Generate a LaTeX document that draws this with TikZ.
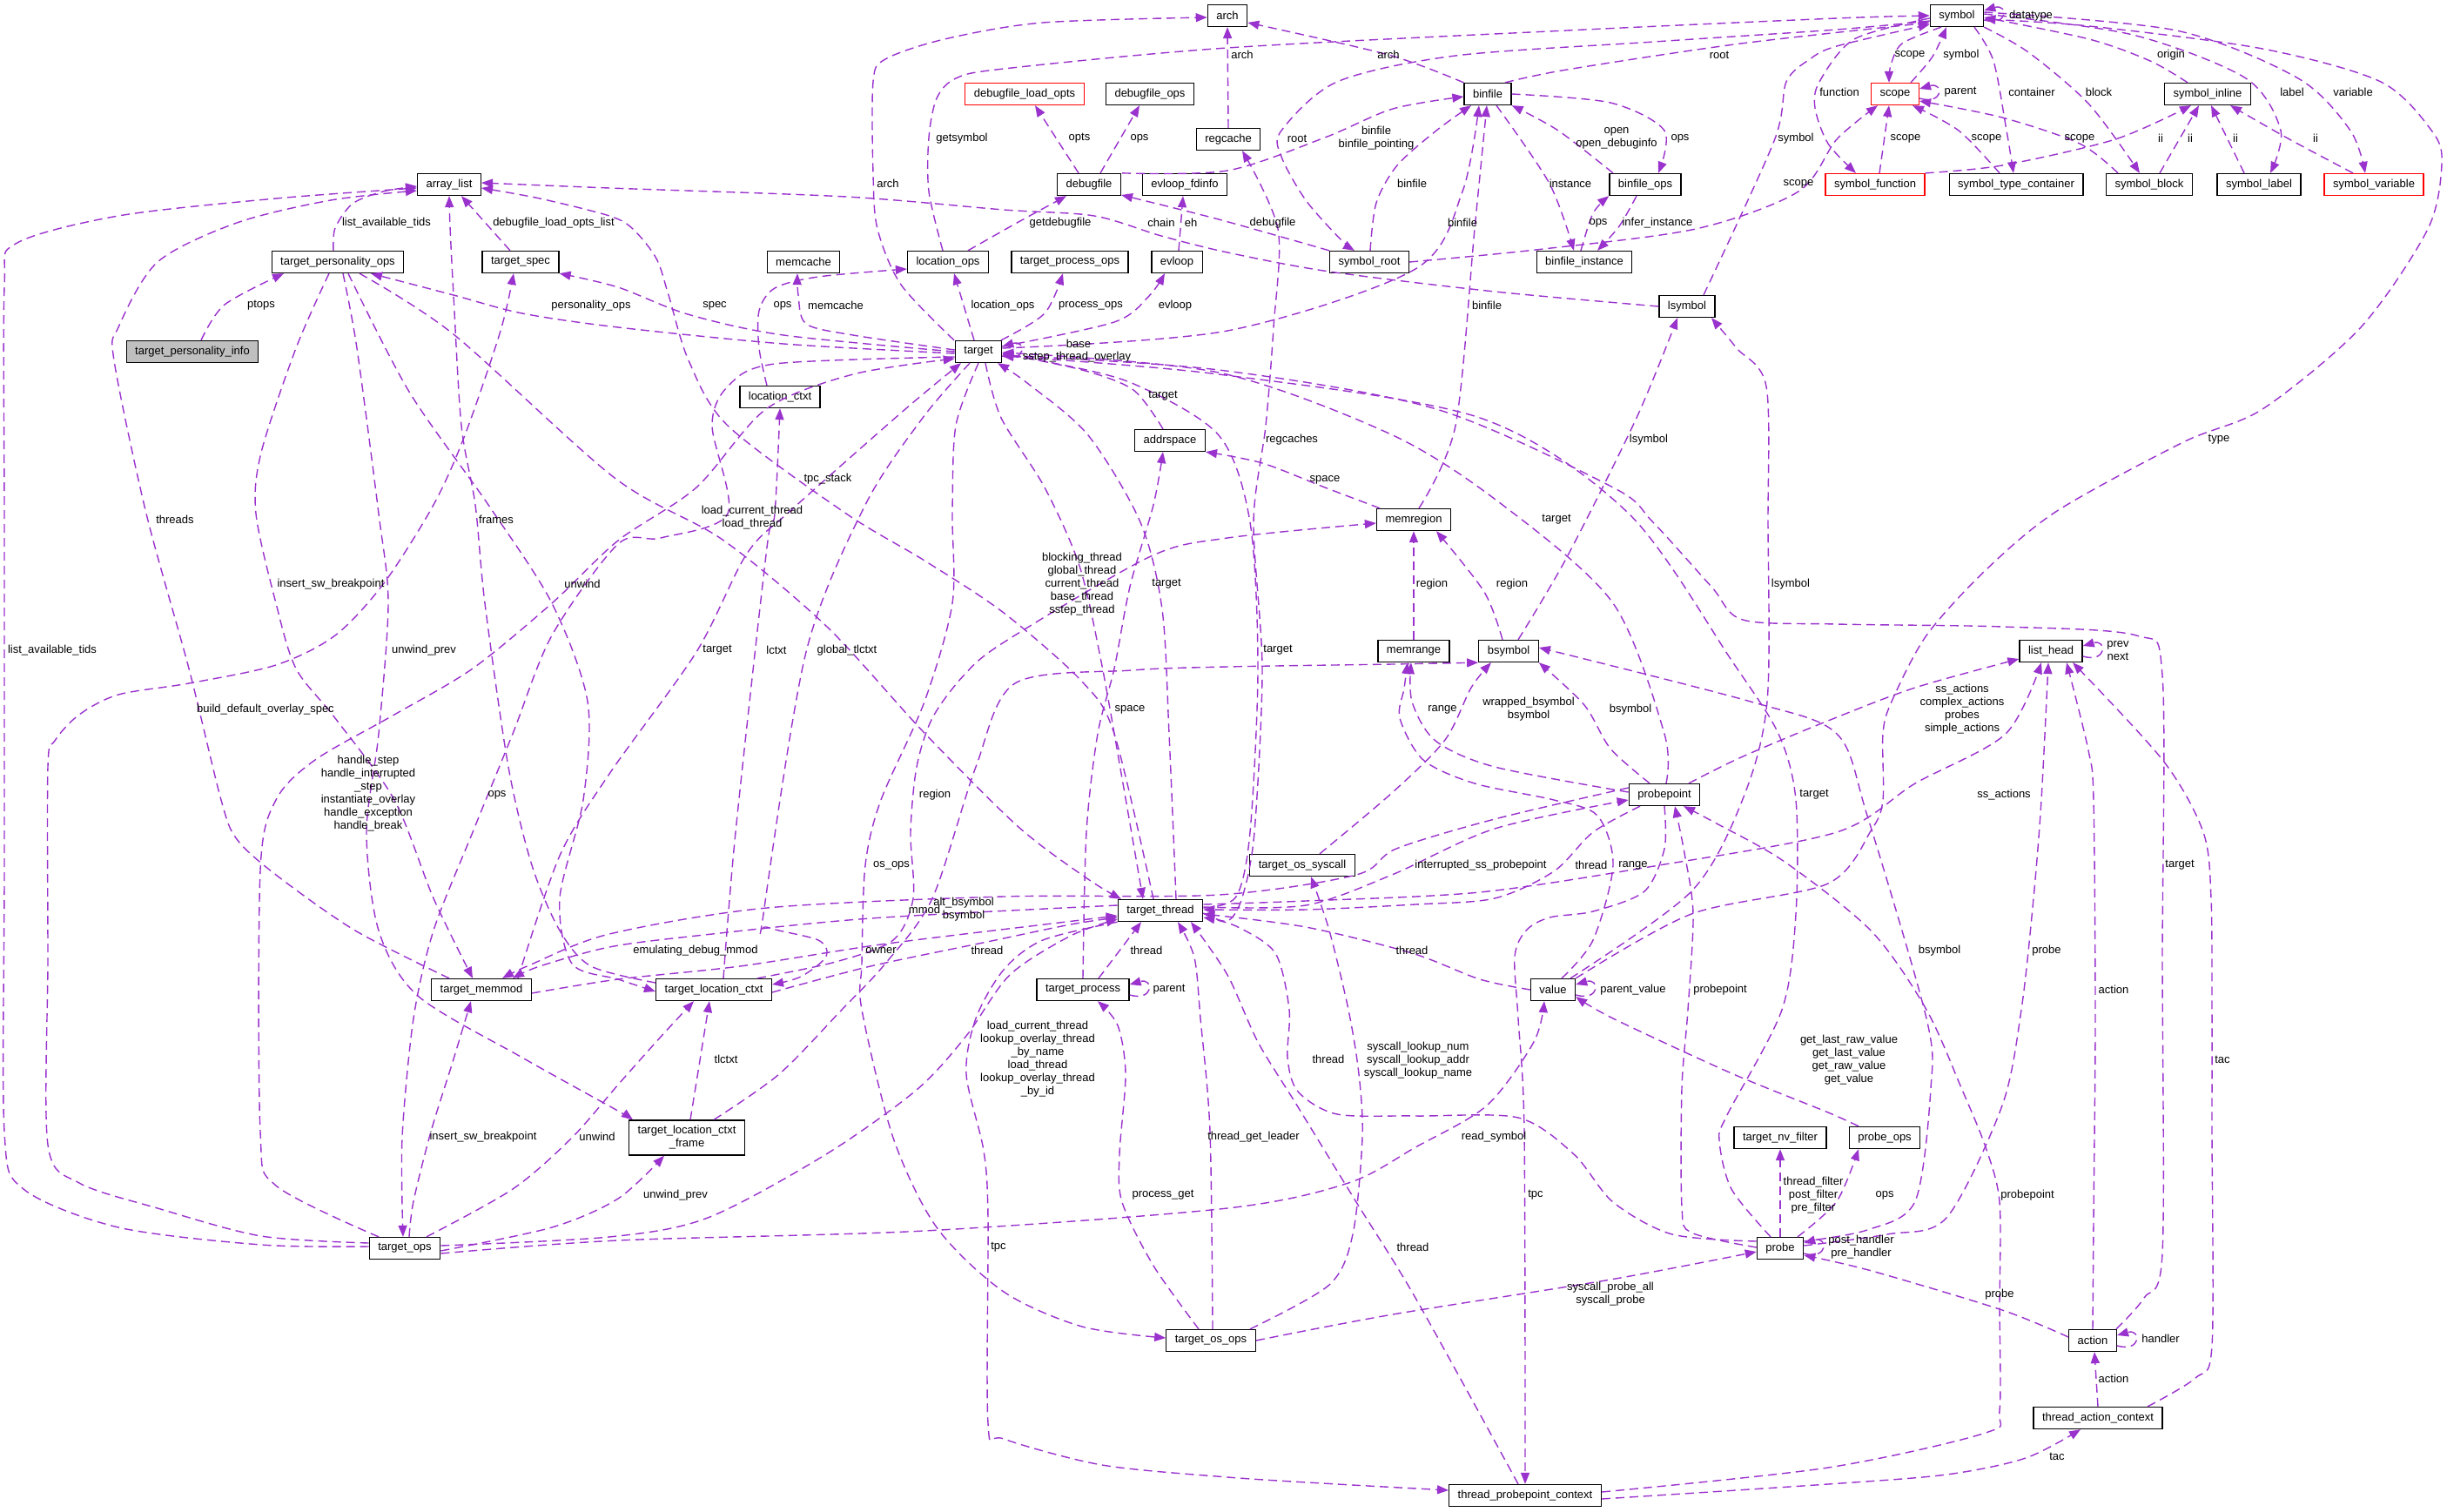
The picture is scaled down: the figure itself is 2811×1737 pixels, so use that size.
\documentclass[tikz,border=0pt]{standalone}
\usepackage{fontspec}
\setmainfont{Liberation Sans}
\usetikzlibrary{arrows.meta}
\definecolor{edgec}{RGB}{154,50,205}
\newcommand\dfont{\fontsize{13}{15}\selectfont}
\tikzset{
 cls/.style={draw=black, line width=1.3pt, fill=white, minimum height=25pt, inner xsep=10pt, inner ysep=2pt, font=\dfont},
 rcls/.style={cls, draw=red},
 edg/.style={draw=edgec, line width=1.4pt, dash pattern=on 10pt off 6pt, -{Triangle[length=13pt,width=10pt]}},
 lab/.style={font=\dfont, inner sep=0pt, align=center},
}
\begin{document}
\begin{tikzpicture}[x=1pt,y=-1pt]
\fill[white] (0,0) rectangle (2811,1737);
\path[use as bounding box] (0,0) rectangle (2811,1737);
% ---------------- nodes
\node[cls] (array_list) at (516,212) {array\_list};
\node[cls] (tpo) at (388,301) {target\_personality\_ops};
\node[cls] (tspec) at (598,301) {target\_spec};
\node[cls,fill=black!25] (tpi) at (221,404) {target\_personality\_info};
\node[cls] (arch) at (1410,18) {arch};
\node[rcls] (dlo) at (1177,108) {debugfile\_load\_opts};
\node[cls] (dops) at (1321,108) {debugfile\_ops};
\node[cls] (regcache) at (1411,160) {regcache};
\node[cls] (debugfile) at (1251,212) {debugfile};
\node[cls] (evfd) at (1361,212) {evloop\_fdinfo};
\node[cls] (memcache) at (923,301) {memcache};
\node[cls] (locops) at (1089,301) {location\_ops};
\node[cls] (tprocops) at (1229,301) {target\_process\_ops};
\node[cls] (evloop) at (1352,301) {evloop};
\node[cls] (target) at (1124,404) {target};
\node[cls] (lctx) at (896,456) {location\_ctxt};
\node[cls] (addrspace) at (1344,506) {addrspace};
\node[cls] (binfile) at (1709,108) {binfile};
\node[cls] (sroot) at (1573,301) {symbol\_root};
\node[cls] (binst) at (1820,301) {binfile\_instance};
\node[cls] (bops) at (1890,212) {binfile\_ops};
\node[cls] (lsymbol) at (1938,352) {lsymbol};
\node[cls] (symbol) at (2248,18) {symbol};
\node[rcls] (scope) at (2177,108) {scope};
\node[cls] (sinline) at (2536,108) {symbol\_inline};
\node[rcls] (sfunc) at (2154,212) {symbol\_function};
\node[cls] (stc) at (2316,212) {symbol\_type\_container};
\node[cls] (sblock) at (2469,212) {symbol\_block};
\node[cls] (slabel) at (2595,212) {symbol\_label};
\node[rcls] (svar) at (2727,212) {symbol\_variable};
\node[cls] (tmm) at (553,1137) {target\_memmod};
\node[cls] (tthread) at (1333,1046) {target\_thread};
\node[cls] (tlc) at (820,1137) {target\_location\_ctxt};
\node[cls] (tproc) at (1244,1137) {target\_process};
\node[cls] (memregion) at (1624,597) {memregion};
\node[cls] (memrange) at (1624,748) {memrange};
\node[cls] (bsymbol) at (1733,748) {bsymbol};
\node[cls] (probepoint) at (1912,913) {probepoint};
\node[cls] (tossys) at (1496,994) {target\_os\_syscall};
\node[cls] (value) at (1784,1137) {value};
\node[cls] (lhead) at (2356,748) {list\_head};
\node[cls] (tops) at (465,1434) {target\_ops};
\node[cls,minimum height=40pt,align=center] (tlcf) at (789,1307) {target\_location\_ctxt\\\_frame};
\node[cls] (tosops) at (1391,1540) {target\_os\_ops};
\node[cls] (nvf) at (2045,1307) {target\_nv\_filter};
\node[cls] (probe) at (2045,1434) {probe};
\node[cls] (tpc) at (1752,1718) {thread\_probepoint\_context};
\node[cls] (probeops) at (2165,1307) {probe\_ops};
\node[cls] (action) at (2404,1540) {action};
\node[cls] (tac) at (2410,1629) {thread\_action\_context};
% ---------------- edges
\draw[edg] plot[smooth] coordinates {([xshift=10pt]tpi.north) (258,350) ([xshift=-62pt]tpo.south)};
\draw[edg] plot[smooth] coordinates {([xshift=-5pt]tpo.north) (385,262) (405,234) (440,220) ([yshift=-2pt]array_list.west)};
\draw[edg] ([xshift=-12pt]tspec.north) -- ([xshift=14pt]array_list.south);
\draw[edg] plot[smooth] coordinates {([yshift=2pt]tops.west) (300,1430) (136,1410) (27,1366) (5,1300) (5,1000) (5,600) (5,330) (18,280) (136,248) (317,228) ([yshift=-4pt]array_list.west)};
\draw[edg] plot[smooth] coordinates {([xshift=-37pt]tmm.north) (408,1069) (317,1005) (272,964) (254,919) (217,768) (168,590) (131,414) (136,376) (181,301) (272,256) (380,230) ([yshift=-7pt]array_list.west)};
\draw[edg] plot[smooth] coordinates {([yshift=6pt]tops.west) (300,1420) (181,1388) (91,1359) (55,1315) (55,1100) (55,881) (63,851) (91,821) (136,798) (217,785) (317,764) (385,730) (441,670) (498,580) (534,500) (575,380) ([xshift=-8pt]tspec.south)};
\draw[edg] plot[smooth] coordinates {([xshift=-10pt]tpo.south) (340,400) (300,520) (294,590) (317,693) (340,768) (385,825) (453,919) (498,1032) ([xshift=-10pt]tmm.north)};
\draw[edg] plot[smooth] coordinates {([xshift=6pt]tpo.south) (410,400) (435,590) (446,693) (435,843) (421,956) (435,1069) (480,1144) (600,1215) (706,1274) ([xshift=-62pt]tlcf.north)};
\draw[edg] plot[smooth] coordinates {([xshift=12pt]tpo.south) (470,450) (561,580) (634,693) (675,806) (670,919) (643,1032) (657,1107) (710,1125) ([yshift=-2pt]tlc.west)};
\draw[edg] plot[smooth] coordinates {([xshift=25pt]tpo.south) (521,384) (706,549) (830,620) (950,720) (1060,840) (1170,950) (1250,1010) ([xshift=-45pt]tthread.north)};
\draw[edg] plot[smooth] coordinates {([yshift=-2pt]target.west) (900,395) (710,376) (600,360) (521,339) ([xshift=38pt]tpo.south)};
\draw[edg] plot[smooth] coordinates {(target.west) (900,385) (790,361) (710,330) (tspec.south east)};
\draw[edg] plot[smooth] coordinates {([yshift=2pt]target.west) (980,385) (926,372) (917,339) ([xshift=-7pt]memcache.south)};
\draw[edg] plot[smooth] coordinates {([xshift=-15pt]lctx.north) (872,400) (872,357) (890,331) (940,318) ([yshift=-8pt]locops.west)};
\draw[edg] ([xshift=-5pt]target.north) -- ([xshift=7pt]locops.south);
\draw[edg] plot[smooth] coordinates {([xshift=26pt]target.north) (1200,360) ([xshift=-8pt]tprocops.south)};
\draw[edg] plot[smooth] coordinates {([yshift=6pt]target.east) (1280,370) (1320,340) ([xshift=-14pt]evloop.south)};
\draw[edg] plot[smooth] coordinates {([xshift=-28pt]target.north) (1035,327) (1008,263) (1003,200) (1003,94) (1017,68) (1085,45) (1198,26) ([yshift=-2pt]arch.west)};
\draw[edg] plot[smooth] coordinates {([xshift=-6pt]locops.north) (1067,220) (1067,158) (1076,113) (1098,90) (1153,79) (1410,55) (1800,35) (2110,21) (symbol.west)};
\draw[edg] plot[smooth] coordinates {([xshift=23pt]locops.north) (1170,255) ([xshift=-26pt]debugfile.south)};
\draw[edg] ([xshift=-12pt]debugfile.north) -- ([xshift=12pt]dlo.south);
\draw[edg] ([xshift=13pt]debugfile.north) -- ([xshift=-12pt]dops.south);
\draw[edg] ([xshift=2pt]evloop.north) -- ([xshift=-2pt]evfd.south);
\draw[edg] plot[smooth] coordinates {(lsymbol.west) (1717,335) (1527,312) (1410,290) (1334,271) (1257,248) (1153,241) (972,226) (700,216) ([yshift=2pt]array_list.east)};
\draw[edg] plot[smooth] coordinates {([xshift=-8pt]tthread.north) (1280,843) (1243,783) (1153,704) (1062,644) (972,590) (836,489) (791,414) (768,339) (754,297) (727,263) (700,248) (620,228) ([yshift=-4pt]array_list.east)};
\draw[edg] plot[smooth] coordinates {([yshift=8pt]tlc.west) (679,1110) (643,1069) (611,994) (584,881) (557,693) (546,580) (530,489) (521,339) (517,260) (array_list.south)};
\draw[edg] plot[smooth] coordinates {([yshift=6pt]tthread.west) (1000,1055) (800,1075) (700,1088) (620,1110) ([xshift=36pt]tmm.north)};
\draw[edg] plot[smooth] coordinates {([yshift=8pt]probepoint.west) (1717,941) (1604,975) (1558,1005) (1400,1028) (1153,1030) (881,1043) (700,1073) (610,1108) ([xshift=24pt]tmm.north)};
\draw[edg] plot[smooth] coordinates {([yshift=-4pt]tmm.east) (710,1125) (850,1110) (1012,1085) (1200,1062) ([yshift=-6pt]tthread.west)};
\draw[edg] plot[smooth] coordinates {([xshift=42pt]tmm.north) (643,983) (700,889) (800,749) (858,636) (910,585) (1040,470) ([xshift=-20pt]target.south)};
\draw[edg] plot[smooth] coordinates {([xshift=-30pt]tops.north) (317,1362) (299,1300) (299,1000) (317,919) (362,873) (453,821) (543,768) (634,693) (710,621) (800,560) (880,470) (980,430) ([yshift=-8pt]target.west)};
\draw[edg] plot[smooth] coordinates {([yshift=-6pt]target.west) (890,418) (836,444) (818,489) (836,590) (759,618) (710,625) (634,730) (589,843) (543,956) (498,1069) (475,1170) (462,1307) ([xshift=-2pt]tops.north)};
\draw[edg] plot[smooth] coordinates {([xshift=5pt]tops.north) (475,1380) (495,1300) (520,1220) ([xshift=-12pt]tmm.south)};
\draw[edg] plot[smooth] coordinates {([xshift=25pt]tops.north) (589,1366) (657,1307) (711,1245) (760,1190) ([xshift=-23pt]tlc.south)};
\draw[edg] plot[smooth] coordinates {([yshift=-3pt]tops.east) (634,1410) (710,1377) ([xshift=-26pt]tlcf.south)};
\draw[edg] plot[smooth] coordinates {([yshift=-6pt]tops.east) (710,1425) (1062,1414) (1410,1388) (1549,1359) (1626,1318) (1708,1270) (1762,1197) ([xshift=-10pt]value.south)};
\draw[edg] plot[smooth] coordinates {([yshift=3pt]tops.east) (700,1421) (813,1399) (949,1326) (1053,1252) (1110,1190) (1160,1120) (1230,1075) ([yshift=-10pt]tthread.west)};
\draw[edg] ([xshift=4pt]tlcf.north) -- ([xshift=-5pt]tlc.south);
\draw[edg] plot[smooth] coordinates {([xshift=31pt]tlcf.north) (895,1234) (967,1160) (1017,1107) (1071,1032) (1121,881) (1166,785) (1300,770) (1410,766) (1600,763) (bsymbol.south west)};
\draw[edg] plot[smooth] coordinates {([xshift=50pt]tlc.north) (960,1105) (1026,1080) (1049,1032) (1046,956) (1053,881) (1071,825) (1107,776) (1153,738) (1320,640) (1410,618) ([yshift=-4pt]memregion.west)};
\draw[edg] plot[smooth] coordinates {([xshift=-10pt]target.south) (1060,480) (994,580) (926,749) (877,1050) (881,1065) (940,1080) (949,1099) (920,1122) ([yshift=6pt]tlc.east)};
\draw[edg] plot[smooth] coordinates {([xshift=11pt]tlc.north) (845,956) (881,629) (890,590) (lctx.south)};
\draw[edg] plot[smooth] coordinates {([yshift=-3pt]tlc.east) (1000,1110) (1134,1082) (1230,1062) ([yshift=-8pt]tthread.west)};
\draw[edg] plot[smooth] coordinates {(target.south) (1098,489) (1094,590) (1094,693) (1062,806) (1012,919) (994,994) (990,1107) (990,1160) (1026,1307) (1076,1410) (1153,1484) (1243,1524) ([yshift=3pt]tosops.west)};
\draw[edg] plot[smooth] coordinates {([xshift=8pt]target.south) (1150,480) (1200,560) (1240,650) (1265,760) (1290,900) ([xshift=-20pt]tthread.north)};
\draw[edg] plot[smooth] coordinates {([xshift=18pt]tthread.north) (1343,843) (1335,700) (1310,600) (1250,500) (1180,440) ([xshift=22pt]target.south)};
\draw[edg] plot[smooth] coordinates {([yshift=-3pt]tthread.east) (1410,1058) (1427,1031) (1441,956) (1450,768) (1440,600) (1454,489) (1463,376) (1468,263) ([xshift=16pt]regcache.south)};
\draw[edg] plot[smooth] coordinates {([yshift=3pt]tthread.east) (1420,1030) (1436,956) (1445,768) (1436,600) (1400,500) (1300,440) (1200,415) ([yshift=-3pt]target.east)};
\draw[edg] plot[smooth] coordinates {(tproc.north) (1248,956) (1261,843) (1280,768) (1298,674) (1325,580) ([xshift=-8pt]addrspace.south)};
\draw[edg] plot[smooth] coordinates {([xshift=-8pt]addrspace.north) (1302,448) (1243,425) ([yshift=-2pt]target.east)};
\draw[edg] plot[smooth] coordinates {([xshift=-39pt]memregion.north) (1522,560) (1450,532) (addrspace.south east)};
\draw[edg] ([xshift=18pt]tproc.north) -- ([xshift=-22pt]tthread.south);
\draw[edg] plot[smooth] coordinates {([xshift=2pt]tosops.north) (1390,1300) (1379,1170) (1372,1100) ([xshift=20pt]tthread.south)};
\draw[edg] plot[smooth] coordinates {([xshift=-14pt]tosops.north) (1325,1454) (1289,1381) (1286,1326) (1293,1234) (1284,1178) ([xshift=17pt]tproc.south)};
\draw[edg] plot[smooth] coordinates {([xshift=45pt]tosops.north) (1527,1476) (1554,1418) (1565,1307) (1561,1234) (1549,1160) (1527,1069) ([xshift=10pt]tossys.south)};
\draw[edg] plot[smooth] coordinates {(tosops.east) (1600,1510) (1850,1470) ([yshift=-4pt]probe.west)};
\draw[edg] plot[smooth] coordinates {([xshift=20pt]tossys.north) (1600,910) (1660,850) (1690,790) ([xshift=-20pt]bsymbol.south)};
\draw[edg] plot[smooth] coordinates {(tthread.south west) (1198,1080) (1153,1114) (1121,1170) (1110,1234) (1130,1322) (1135,1400) (1135,1635) (1153,1653) (1266,1683) (1410,1697) (1536,1705) ([yshift=6pt]tpc.west)};
\draw[edg] plot[smooth] coordinates {([xshift=-8pt]tpc.north) (1626,1491) (1558,1381) (1490,1270) (1445,1197) (1410,1120) ([xshift=35pt]tthread.south)};
\draw[edg] plot[smooth] coordinates {([yshift=8pt]probe.west) (1921,1418) (1853,1381) (1808,1326) (1744,1284) (1626,1282) (1536,1280) (1491,1254) (1479,1215) (1481,1160) (1465,1095) (1420,1064) ([yshift=-8pt]tthread.east)};
\draw[edg] plot[smooth] coordinates {(probepoint.south) (1912,975) (1889,1024) (1830,1047) (1780,1054) (1753,1069) (1740,1099) (1744,1170) (1751,1300) (tpc.north)};
\draw[edg] plot[smooth] coordinates {([yshift=4pt]tpc.east) (2100,1686) (2281,1646) (2297,1620) (2297,1500) (2297,1381) (2281,1318) (2254,1252) (2213,1160) (2150,1070) (2050,990) (1970,945) ([xshift=22pt]probepoint.south)};
\draw[edg] plot[smooth] coordinates {([yshift=-4pt]tpc.east) (2100,1705) (2236,1694) (2327,1675) ([xshift=-20pt]tac.south)};
\draw[edg] (tac.north) -- ([xshift=2pt]action.south);
\draw[edg] plot[smooth] coordinates {([xshift=57pt]tac.north) (2522,1583) (2541,1546) (2541,1300) (2541,1160) (2540,1032) (2531,956) (2485,874) ([xshift=25pt]lhead.south)};
\draw[edg] plot[smooth] coordinates {([xshift=27pt]action.north) (2463,1491) (2484,1440) (2484,1100) (2484,776) (2454,730) (2300,720) (2110,717) (2002,712) (1966,674) (1898,599) (1853,560) (1650,470) (1400,425) ([yshift=-4pt]target.east)};
\draw[edg] plot[smooth] coordinates {(action.north) (2405,1400) (2407,1170) (2405,920) (2399,862) ([xshift=18pt]lhead.south)};
\draw[edg] plot[smooth] coordinates {([yshift=4pt]action.west) (2300,1505) (2150,1460) ([yshift=-8pt]probe.east)};
\draw[edg] plot[smooth] coordinates {([yshift=3pt]probe.east) (2168,1418) (2236,1399) (2300,1270) (2322,1160) (2336,1032) (2345,919) ([xshift=-3pt]lhead.south)};
\draw[edg] plot[smooth] coordinates {([yshift=8pt]probe.east) (2145,1413) (2200,1380) (2218,1250) (2213,1170) (2145,937) (2110,843) (2011,806) ([yshift=4pt]bsymbol.east)};
\draw[edg] plot[smooth] coordinates {([xshift=20pt]probe.north) (2110,1380) ([xshift=-30pt]probeops.south)};
\draw[edg] (probe.north) -- (nvf.south);
\draw[edg] plot[smooth] coordinates {([xshift=-11pt]probe.north) (1989,1366) (1975,1310) (1984,1281) (2047,1160) (2063,1050) (2063,919) (2043,843) (1990,760) (1871,590) (1700,480) (1400,430) ([yshift=-5pt]target.east)};
\draw[edg] plot[smooth] coordinates {([yshift=1pt]probe.west) (1943,1416) (1932,1386) (1932,1250) (1939,1160) (1945,1050) (1935,980) ([xshift=12pt]probepoint.south)};
\draw[edg] plot[smooth] coordinates {([xshift=-30pt]probeops.north) (2100,1278) (1989,1233) (1853,1170) ([yshift=-8pt]value.east)};
\draw[edg] plot[smooth] coordinates {(value.west) (1700,1125) (1622,1095) (1500,1065) ([yshift=-4pt]tthread.east)};
\draw[edg] plot[smooth] coordinates {([xshift=10pt]value.north) (1830,1080) (1853,994) (1835,937) (1785,919) (1694,900) (1635,873) (1608,825) (1613,791) ([xshift=-7pt]memrange.south)};
\draw[edg] plot[smooth] coordinates {([xshift=20pt]value.north) (1943,1024) (2002,918) (2030,806) (2031,600) (2029,444) (1995,400) ([xshift=28pt]lsymbol.south)};
\draw[edg] plot[smooth] coordinates {(value.north east) (1943,1050) (2100,1015) (2150,953) (2163,919) (2163,843) (2173,806) (2213,730) (2281,655) (2363,587) (2508,508) (2599,470) (2712,376) (2789,263) (2805,188) (2794,151) (2735,94) (2599,56) (2400,30) ([yshift=-4pt]symbol.east)};
\draw[edg] plot[smooth] coordinates {([yshift=4pt]tthread.east) (1500,1040) (1599,1005) (1717,952) ([yshift=-6pt]probepoint.west)};
\draw[edg] plot[smooth] coordinates {([xshift=-28pt]probepoint.south) (1830,956) (1785,1001) (1717,1032) (1626,1039) (1500,1045) ([yshift=1pt]tthread.east)};
\draw[edg] plot[smooth] coordinates {([xshift=28pt]probepoint.north) (2000,870) (2100,828) (2200,790) ([yshift=-9pt]lhead.west)};
\draw[edg] plot[smooth] coordinates {([yshift=7pt]tthread.east) (1500,1035) (1700,1025) (1900,995) (2110,956) (2200,900) (2304,843) ([xshift=-11pt]lhead.south)};
\draw[edg] plot[smooth] coordinates {([xshift=-17pt]probepoint.north) (1850,860) (1820,810) (bsymbol.south east)};
\draw[edg] plot[smooth] coordinates {([yshift=3pt]probepoint.west) (1717,881) (1649,851) (1622,806) ([xshift=-3pt]memrange.south)};
\draw[edg] plot[smooth] coordinates {([xshift=2pt]probepoint.north) (1912,843) (1853,693) (1726,580) (1600,500) (1400,428) ([yshift=-1pt]target.east)};
\draw[edg] (memrange.north) -- (memregion.south);
\draw[edg] plot[smooth] coordinates {([xshift=-7pt]bsymbol.north) (1705,680) ([xshift=26pt]memregion.south)};
\draw[edg] plot[smooth] coordinates {([xshift=11pt]bsymbol.north) (1800,640) (1880,480) ([xshift=-11pt]lsymbol.south)};
\draw[edg] plot[smooth] coordinates {([xshift=6pt]memregion.north) (1672,489) (1694,263) ([xshift=-1pt]binfile.south)};
\draw[edg] plot[smooth] coordinates {([yshift=4pt]target.east) (1410,380) (1626,309) (1680,220) ([xshift=-10pt]binfile.south)};
\draw[edg] plot[smooth] coordinates {([xshift=1pt]sroot.north) (1581,233) (1605,190) (1650,150) ([xshift=-19pt]binfile.south)};
\draw[edg] plot[smooth] coordinates {([xshift=38pt]debugfile.north) (1410,196) (1522,158) (1600,125) ([yshift=-3pt]binfile.west)};
\draw[edg] plot[smooth] coordinates {(sroot.north west) (1400,252) ([yshift=-12pt]debugfile.east)};
\draw[edg] plot[smooth] coordinates {([yshift=-6pt]symbol.west) (2110,34) (1900,48) (1672,64) (1536,94) (1472,150) (1472,180) (1500,230) (1540,275) ([xshift=-17pt]sroot.north)};
\draw[edg] plot[smooth] coordinates {([xshift=20pt]binfile.north) (1800,80) (2000,50) ([yshift=-8pt]symbol.west)};
\draw[edg] plot[smooth] coordinates {(binfile.north west) (1595,63) ([yshift=-8pt]arch.east)};
\draw[edg] (regcache.north) -- (arch.south);
\draw[edg] plot[smooth] coordinates {([xshift=10pt]binfile.south) (1780,211) ([xshift=-12pt]binst.north)};
\draw[edg] plot[smooth] coordinates {([xshift=-37pt]bops.north) (1790,150) (binfile.south east)};
\draw[edg] plot[smooth] coordinates {(binfile.east) (1850,118) (1912,150) ([xshift=15pt]bops.north)};
\draw[edg] plot[smooth] coordinates {([xshift=-4pt]binst.north) (1830,245) (bops.south west)};
\draw[edg] plot[smooth] coordinates {([xshift=-10pt]bops.south) (1860,260) ([xshift=15pt]binst.north)};
\draw[edg] plot[smooth] coordinates {(sroot.east) (1764,287) (1948,263) (2066,220) (2110,160) ([xshift=-20pt]scope.south)};
\draw[edg] plot[smooth] coordinates {([xshift=19pt]lsymbol.north) (2038,162) (2052,94) (2079,68) (2110,53) ([yshift=-10pt]symbol.west)};
\draw[edg] plot[smooth] coordinates {([yshift=-3pt]symbol.west) (2130,45) (2090,94) (2085,124) (2100,165) ([xshift=-22pt]sfunc.north)};
\draw[edg] plot[smooth] coordinates {([xshift=-18pt]symbol.south) (2185,50) (2172,75) ([xshift=-7pt]scope.north)};
\draw[edg] plot[smooth] coordinates {([xshift=18pt]scope.north) (2220,65) ([xshift=-12pt]symbol.south)};
\draw[edg] plot[smooth] coordinates {([xshift=20pt]symbol.south) (2290,70) (2305,150) ([xshift=-3pt]stc.north)};
\draw[edg] plot[smooth] coordinates {(symbol.south east) (2330,60) (2400,120) ([xshift=-11pt]sblock.north)};
\draw[edg] plot[smooth] coordinates {([xshift=-23pt]sinline.north) (2470,70) (2400,45) ([yshift=-2pt]symbol.east)};
\draw[edg] plot[smooth] coordinates {([yshift=2pt]symbol.east) (2450,40) (2580,90) (2620,150) ([xshift=13pt]slabel.north)};
\draw[edg] plot[smooth] coordinates {([yshift=4pt]symbol.east) (2500,35) (2640,90) (2700,150) ([xshift=-10pt]svar.north)};
\draw[edg] ([xshift=5pt]sfunc.north) -- ([xshift=-7pt]scope.south);
\draw[edg] plot[smooth] coordinates {([xshift=-19pt]stc.north) (2250,150) ([xshift=20pt]scope.south)};
\draw[edg] plot[smooth] coordinates {([xshift=-36pt]sblock.north) (2389,165) (2300,135) ([yshift=-8pt]scope.east)};
\draw[edg] plot[smooth] coordinates {(sfunc.north east) (2300,190) (2430,160) ([xshift=-19pt]sinline.south)};
\draw[edg] ([xshift=12pt]sblock.north) -- ([xshift=-10pt]sinline.south);
\draw[edg] ([xshift=-17pt]slabel.north) -- ([xshift=4pt]sinline.south);
\draw[edg] plot[smooth] coordinates {([xshift=-24pt]svar.north) (2630,160) ([xshift=26pt]sinline.south)};
% self loops
\draw[edg] ([yshift=-5pt]symbol.east) .. controls +(28,8) and +(28,-8) .. ([yshift=6pt]symbol.east);
\draw[edg] ([yshift=-5pt]scope.east) .. controls +(28,8) and +(28,-8) .. ([yshift=6pt]scope.east);
\draw[edg] ([yshift=-5pt]target.east) .. controls +(28,8) and +(28,-8) .. ([yshift=6pt]target.east);
\draw[edg] ([yshift=-6pt]lhead.east) .. controls +(28,8) and +(28,-8) .. ([yshift=6pt]lhead.east);
\draw[edg] ([yshift=-6pt]tproc.east) .. controls +(28,8) and +(28,-8) .. ([yshift=6pt]tproc.east);
\draw[edg] ([yshift=-6pt]value.east) .. controls +(28,8) and +(28,-8) .. ([yshift=6pt]value.east);
\draw[edg] ([yshift=-6pt]probe.east) .. controls +(28,8) and +(28,-8) .. ([yshift=6pt]probe.east);
\draw[edg] ([yshift=-6pt]action.east) .. controls +(28,8) and +(28,-8) .. ([yshift=6pt]action.east);
% ---------------- labels
\node[lab] (L1) at (300,351) {ptops};
\node[lab] (L2) at (444,256) {list\_available\_tids};
\node[lab] (L3) at (636,256) {debugfile\_load\_opts\_list};
\node[lab] (L4) at (679,351) {personality\_ops};
\node[lab] (L5) at (821,351) {spec};
\node[lab] (L6) at (899,351) {ops};
\node[lab] (L7) at (960,351) {memcache};
\node[lab] (L8) at (1152,351) {location\_ops};
\node[lab] (L9) at (1253,351) {process\_ops};
\node[lab] (L10) at (1350,351) {evloop};
\node[lab] (L11) at (1020,211) {arch};
\node[lab] (L12) at (1105,159) {getsymbol};
\node[lab] (L13) at (1240,159) {opts};
\node[lab] (L14) at (1309,159) {ops};
\node[lab] (L15) at (1218,256) {getdebugfile};
\node[lab] (L16) at (1334,256) {chain};
\node[lab] (L17) at (1368,256) {eh};
\node[lab] (L18) at (1427,63) {arch};
\node[lab] (L19) at (1595,63) {arch};
\node[lab] (L20) at (1975,63) {root};
\node[lab] (L21) at (1490,159) {root};
\node[lab] (L22) at (1581,159) {binfile\\binfile\_pointing};
\node[lab] (L23) at (1622,211) {binfile};
\node[lab] (L24) at (1462,256) {debugfile};
\node[lab] (L25) at (1680,256) {binfile};
\node[lab] (L26) at (1708,351) {binfile};
\node[lab] (L27) at (1804,211) {instance};
\node[lab] (L28) at (1857,159) {open\\open\_debuginfo};
\node[lab] (L29) at (1930,159) {ops};
\node[lab] (L30) at (1836,256) {ops};
\node[lab] (L31) at (1904,256) {infer\_instance};
\node[lab] (L32) at (2063,159) {symbol};
\node[lab] (L33) at (2066,211) {scope};
\node[lab] (L34) at (2113,106) {function};
\node[lab] (L35) at (2194,63) {scope};
\node[lab] (L36) at (2253,63) {symbol};
\node[lab] (L37) at (2333,18) {datatype};
\node[lab] (L38) at (2252,106) {parent};
\node[lab] (L39) at (2334,106) {container};
\node[lab] (L40) at (2411,106) {block};
\node[lab] (L41) at (2494,63) {origin};
\node[lab] (L42) at (2633,106) {label};
\node[lab] (L43) at (2703,106) {variable};
\node[lab] (L44) at (2189,159) {scope};
\node[lab] (L45) at (2282,159) {scope};
\node[lab] (L46) at (2389,159) {scope};
\node[lab] (L47) at (2482,159) {ii};
\node[lab] (L48) at (2516,159) {ii};
\node[lab] (L49) at (2568,159) {ii};
\node[lab] (L50) at (2660,159) {ii};
\node[lab] (L51) at (2549,505) {type};
\node[lab] (L52) at (1894,505) {lsymbol};
\node[lab] (L53) at (1484,505) {regcaches};
\node[lab] (L54) at (1522,551) {space};
\node[lab] (L55) at (951,550) {tpc\_stack};
\node[lab] (L56) at (1336,455) {target};
\node[lab] (L57) at (1239,395) {base};
\node[lab] (L58) at (1237,410) {sstep\_thread\_overlay};
\node[lab] (L59) at (201,597) {threads};
\node[lab] (L60) at (570,597) {frames};
\node[lab] (L61) at (380,671) {insert\_sw\_breakpoint};
\node[lab] (L62) at (669,671) {unwind};
\node[lab] (L63) at (60,747) {list\_available\_tids};
\node[lab] (L64) at (487,747) {unwind\_prev};
\node[lab] (L65) at (305,815) {build\_default\_overlay\_spec};
\node[lab] (L66) at (423,912) {handle\_step\\handle\_interrupted\\\_step\\instantiate\_overlay\\handle\_exception\\handle\_break};
\node[lab] (L67) at (571,913) {ops};
\node[lab] (L68) at (864,595) {load\_current\_thread\\load\_thread};
\node[lab] (L69) at (824,747) {target};
\node[lab] (L70) at (892,747) {lctxt};
\node[lab] (L71) at (973,747) {global\_tlctxt};
\node[lab] (L72) at (1243,671) {blocking\_thread\\global\_thread\\current\_thread\\base\_thread\\sstep\_thread};
\node[lab] (L73) at (1340,671) {target};
\node[lab] (L74) at (1298,815) {space};
\node[lab] (L75) at (1074,913) {region};
\node[lab] (L76) at (1024,994) {os\_ops};
\node[lab] (L77) at (1062,1045) {mmod};
\node[lab] (L78) at (1107,1045) {alt\_bsymbol\\bsymbol};
\node[lab] (L79) at (799,1092) {emulating\_debug\_mmod};
\node[lab] (L80) at (1012,1092) {owner};
\node[lab] (L81) at (1134,1092) {thread};
\node[lab] (L82) at (1317,1092) {thread};
\node[lab] (L83) at (1343,1137) {parent};
\node[lab] (L84) at (1645,671) {region};
\node[lab] (L85) at (1737,671) {region};
\node[lab] (L86) at (1788,597) {target};
\node[lab] (L87) at (2057,671) {lsymbol};
\node[lab] (L88) at (1468,747) {target};
\node[lab] (L89) at (1657,815) {range};
\node[lab] (L90) at (1756,815) {wrapped\_bsymbol\\bsymbol};
\node[lab] (L91) at (1873,815) {bsymbol};
\node[lab] (L92) at (2084,913) {target};
\node[lab] (L93) at (1701,994) {interrupted\_ss\_probepoint};
\node[lab] (L94) at (1828,994) {thread};
\node[lab] (L95) at (1876,994) {range};
\node[lab] (L96) at (1622,1092) {thread};
\node[lab] (L97) at (1876,1137) {parent\_value};
\node[lab] (L98) at (1976,1137) {probepoint};
\node[lab] (L99) at (2433,748) {prev\\next};
\node[lab] (L100) at (2254,815) {ss\_actions\\complex\_actions\\probes\\simple\_actions};
\node[lab] (L101) at (2302,913) {ss\_actions};
\node[lab] (L102) at (2504,994) {target};
\node[lab] (L103) at (2228,1092) {bsymbol};
\node[lab] (L104) at (2351,1092) {probe};
\node[lab] (L105) at (2428,1137) {action};
\node[lab] (L106) at (555,1306) {insert\_sw\_breakpoint};
\node[lab] (L107) at (686,1306) {unwind};
\node[lab] (L108) at (834,1217) {tlctxt};
\node[lab] (L109) at (776,1373) {unwind\_prev};
\node[lab] (L110) at (1192,1217) {load\_current\_thread\\lookup\_overlay\_thread\\\_by\_name\\load\_thread\\lookup\_overlay\_thread\\\_by\_id};
\node[lab] (L111) at (1440,1306) {thread\_get\_leader};
\node[lab] (L112) at (1336,1373) {process\_get};
\node[lab] (L113) at (1147,1433) {tpc};
\node[lab] (L114) at (1526,1217) {thread};
\node[lab] (L115) at (1629,1218) {syscall\_lookup\_num\\syscall\_lookup\_addr\\syscall\_lookup\_name};
\node[lab] (L116) at (1716,1306) {read\_symbol};
\node[lab] (L117) at (1764,1373) {tpc};
\node[lab] (L118) at (1623,1433) {thread};
\node[lab] (L119) at (1850,1487) {syscall\_probe\_all\\syscall\_probe};
\node[lab] (L120) at (2083,1373) {thread\_filter\\post\_filter\\pre\_filter};
\node[lab] (L121) at (2138,1433) {post\_handler\\pre\_handler};
\node[lab] (L122) at (2124,1218) {get\_last\_raw\_value\\get\_last\_value\\get\_raw\_value\\get\_value};
\node[lab] (L123) at (2165,1373) {ops};
\node[lab] (L124) at (2329,1373) {probepoint};
\node[lab] (L125) at (2297,1487) {probe};
\node[lab] (L126) at (2482,1538) {handler};
\node[lab] (L127) at (2428,1584) {action};
\node[lab] (L128) at (2363,1673) {tac};
\node[lab] (L129) at (2553,1217) {tac};
\end{tikzpicture}
\end{document}
